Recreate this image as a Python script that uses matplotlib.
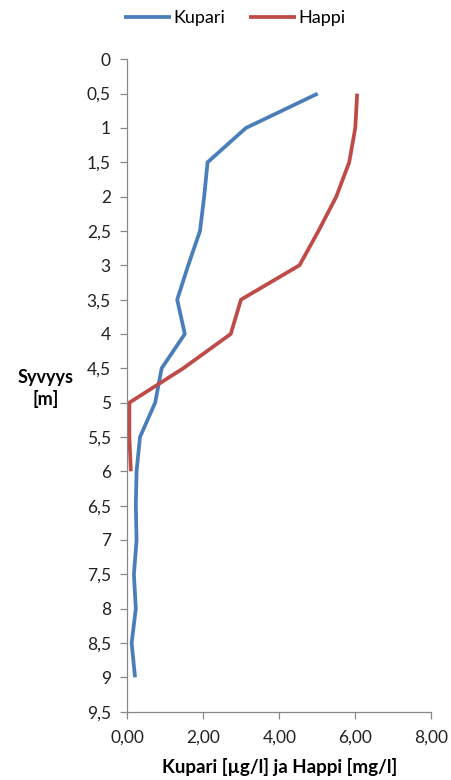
import matplotlib
matplotlib.use("Agg")
import matplotlib.pyplot as plt
from matplotlib.ticker import FixedLocator

plt.rcParams['font.family'] = ['Lato', 'DejaVu Sans']

depth_kupari = [0.5, 1.0, 1.5, 2.0, 2.5, 3.0, 3.5, 4.0, 4.5, 5.0, 5.5, 6.0, 6.5, 7.0, 7.5, 8.0, 8.5, 9.0]
kupari = [5.01, 3.12, 2.11, 2.02, 1.91, 1.60, 1.31, 1.51, 0.90, 0.73, 0.33, 0.24, 0.22, 0.24, 0.17, 0.22, 0.11, 0.20]
depth_happi = [0.5, 1.0, 1.5, 2.0, 2.5, 3.0, 3.5, 4.0, 4.5, 5.0, 5.5, 6.0]
happi = [6.05, 6.00, 5.84, 5.50, 5.03, 4.53, 2.99, 2.72, 1.47, 0.05, 0.05, 0.09]

y_ticks = [i * 0.5 for i in range(20)]
y_labels = [("%g" % v).replace('.', ',') for v in y_ticks]
x_ticks = [0, 2, 4, 6, 8]
x_labels = ["0,00", "2,00", "4,00", "6,00", "8,00"]

fig = plt.figure(figsize=(4.52, 7.80), dpi=100)
ax = fig.add_axes([0.282, 0.0876, 0.672, 0.8364])

ax.plot(kupari, depth_kupari, color='#4A7EBB', lw=2.7, label='Kupari', solid_capstyle='butt')
ax.plot(happi, depth_happi, color='#BE4B48', lw=2.7, label='Happi', solid_capstyle='butt')

ax.set_xlim(0, 8)
ax.set_ylim(9.5, 0)
ax.yaxis.set_major_locator(FixedLocator(y_ticks))
ax.set_yticklabels(y_labels)
ax.xaxis.set_major_locator(FixedLocator(x_ticks))
ax.set_xticklabels(x_labels)

for s in ['top', 'right']:
    ax.spines[s].set_visible(False)
for s in ['left', 'bottom']:
    ax.spines[s].set_color('#888888')
    ax.spines[s].set_linewidth(0.9)
ax.tick_params(axis='both', colors='#888888', length=5, width=0.9, labelsize=12.5, labelcolor='#222222')
ax.tick_params(axis='y', pad=7)
ax.tick_params(axis='x', pad=8)

ax.set_xlabel('Kupari [µg/l] ja Happi [mg/l]', fontsize=13.5, fontweight='bold', labelpad=9)
fig.text(0.1, 0.502, 'Syvyys\n[m]', fontsize=13, fontweight='bold', ha='center', va='center', linespacing=1.25)

leg = fig.legend(loc='center', bbox_to_anchor=(0.52, 0.977), ncol=2, frameon=False,
                 fontsize=13, handlelength=2.6, handletextpad=0.15, columnspacing=1.3)

fig.savefig('out.png', dpi=100)
